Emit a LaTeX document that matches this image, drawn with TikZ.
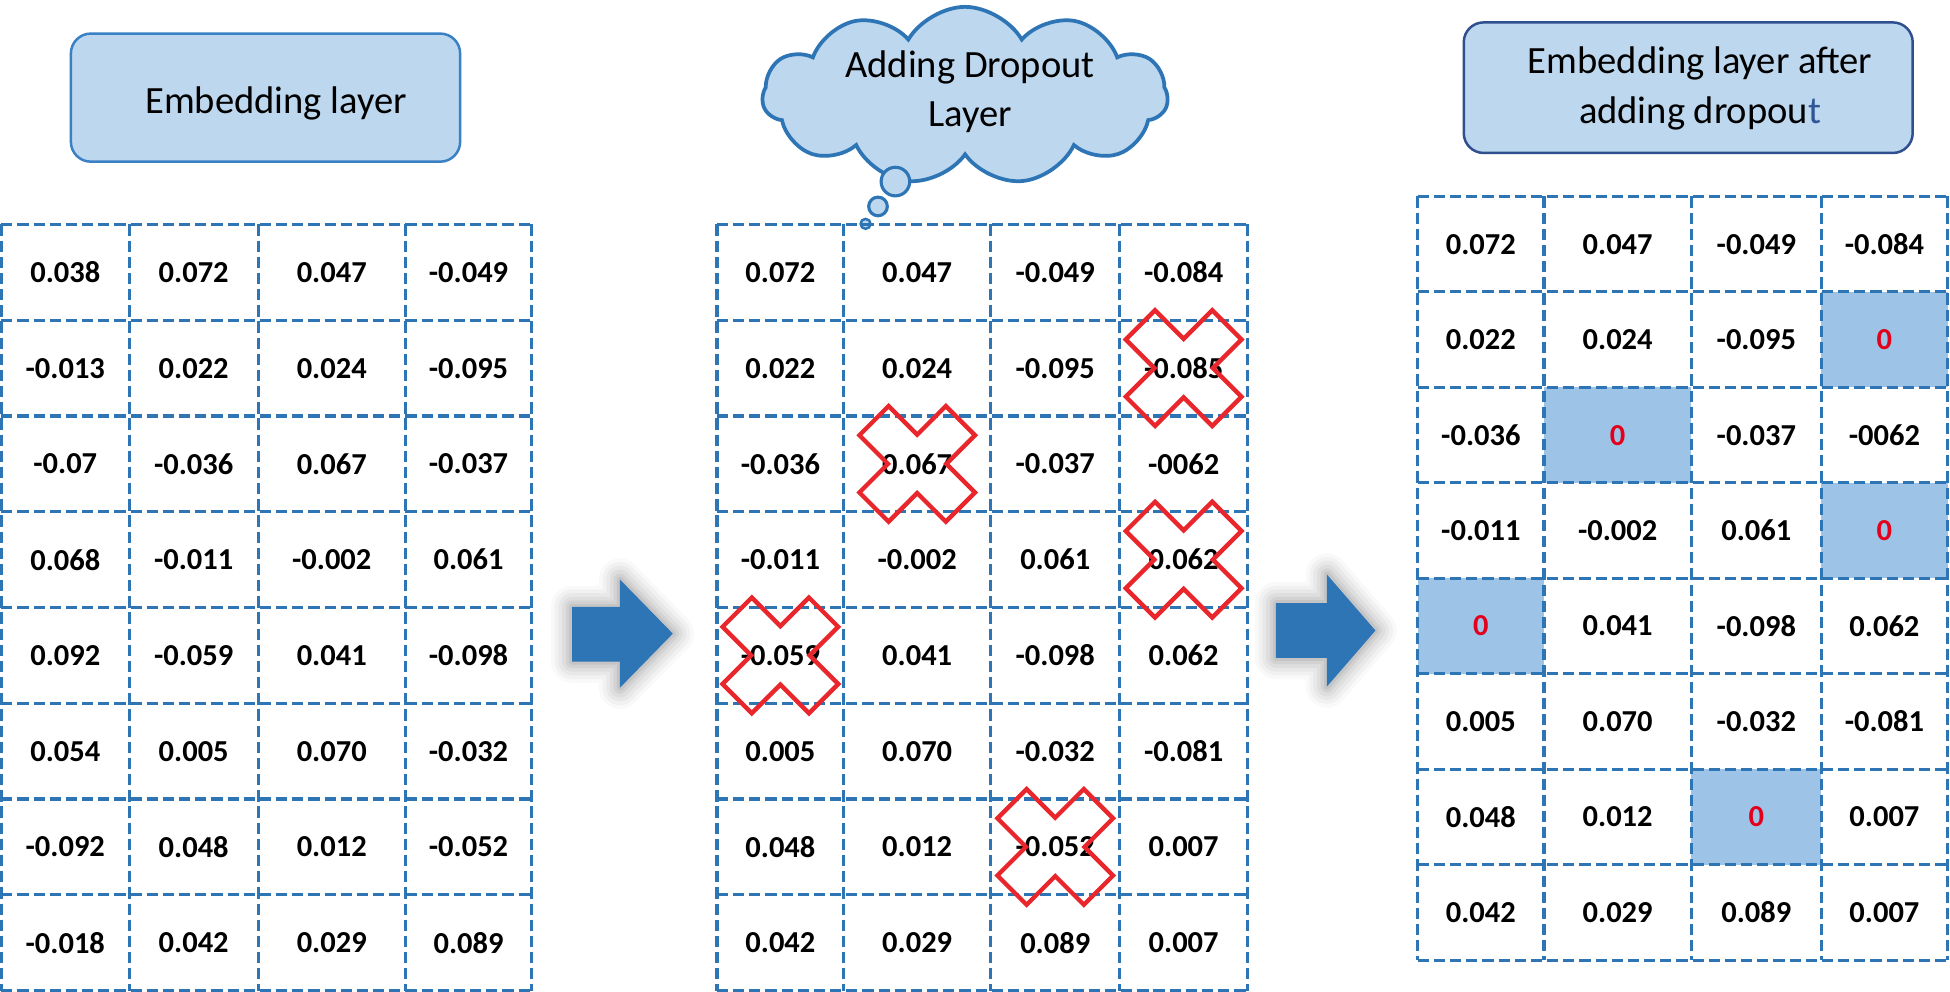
\documentclass[tikz,border=0pt]{standalone}
\usepackage{fontspec}
\setmainfont{Carlito}
\usetikzlibrary{shapes.symbols}
\definecolor{gridblue}{HTML}{2E75B6}
\definecolor{boxfill}{HTML}{BDD7EE}
\definecolor{boxline}{HTML}{3A80C4}
\definecolor{navyline}{HTML}{2F4F8F}
\definecolor{cellhi}{HTML}{9DC3E6}
\definecolor{xred}{HTML}{E8262B}
\definecolor{zerored}{HTML}{E3001B}
\definecolor{arrowblue}{HTML}{2E75B6}
\definecolor{tblue}{HTML}{2F5597}
\newcommand\zeroval{\textcolor{zerored}{0}}
\newcommand\celltable[5]{%
  \foreach \row [count=\r from 0] in {#5} {
    \foreach \v [count=\c from 0] in \row {
      \pgfmathsetmacro\xl{#2[\c]}
      \pgfmathtruncatemacro\cn{\c+1}
      \pgfmathsetmacro\xr{#2[\cn]}
      \pgfmathsetmacro\xc{(\xl+\xr)/2}
      \pgfmathsetmacro\yc{#3+#4*(\r+0.5)}
      \node[num] (#1-\r-\c) at (\xc,\yc) {\v};
    }
  }
}
\def\colA{{1,104,207.5,326,427.5}}
\def\colB{{576.5,678.5,796.5,900.5,1003}}
\def\colC{{1140,1241.5,1360,1464.5,1566}}
\begin{document}
\begin{tikzpicture}[x=1pt,y=-1pt,
  num/.style={font=\bfseries\fontsize{24.5}{29}\selectfont, inner sep=0pt, anchor=center},
  titletext/.style={font=\fontsize{31}{40}\selectfont, inner sep=0pt, anchor=base},
  gridline/.style={draw=gridblue, line width=2.5pt, dash pattern=on 9pt off 4pt},
  titlebox/.style={rounded corners=16pt, fill=boxfill, line width=2pt},
  redx/.pic={\draw[xred, line width=3.5pt, line join=miter]
     (0,-23.5) -- (23,-46.5) -- (46.5,-23) -- (23.5,0) -- (46.5,23) -- (23,46.5)
     -- (0,23.5) -- (-23,46.5) -- (-46.5,23) -- (-23.5,0) -- (-46.5,-23) -- (-23,-46.5) -- cycle;},
  bubble/.style={circle, draw=gridblue, fill=boxfill, line width=2.5pt, inner sep=0pt}
]
\useasboundingbox (0,0) rectangle (1568,797);
\fill[white] (0,0) rectangle (1568,797);

% ---------- title boxes ----------
\draw[titlebox, draw=boxline] (57,27) rectangle (370,130);
\node[titletext] (t1) at (222,91) {Embedding layer};

\node[cloud, cloud puffs=11, cloud puff arc=120, aspect=2.3, draw=gridblue, fill=boxfill,
      line width=3pt, minimum width=326pt, minimum height=143pt, inner sep=0pt] (cloud) at (776,77) {};
\node[titletext] (t2a) at (780,62) {Adding Dropout};
\node[titletext] (t2b) at (780,102) {Layer};
\node[bubble, minimum size=23pt] (c1) at (720,146) {};
\node[bubble, minimum size=15pt] (c2) at (706,166) {};
\node[bubble, minimum size=8pt, line width=2pt] (c3) at (696,180) {};

\draw[titlebox, draw=navyline] (1177,18) rectangle (1538,123);
\node[titletext] (t3a) at (1367,59) {Embedding layer after};
\node[titletext] (t3b) at (1367,99) {adding dropou\textcolor{tblue}{t}};

% ---------- highlighted cells in table 3 ----------
\fill[cellhi] (1464.5,234.75) rectangle (1566,311.5);
\fill[cellhi] (1241.5,311.5) rectangle (1360,388.25);
\fill[cellhi] (1464.5,388.25) rectangle (1566,465);
\fill[cellhi] (1140,465) rectangle (1241.5,541.75);
\fill[cellhi] (1360,618.5) rectangle (1464.5,695.25);

% ---------- grids ----------
\foreach \x in {1,104,207.5,326,427.5} \draw[gridline] (\x,180.5) -- (\x,796.5);
\foreach \i in {0,...,8} \draw[gridline] (1,180.5+77*\i) -- (427.5,180.5+77*\i);
\foreach \x in {576.5,678.5,796.5,900.5,1003} \draw[gridline] (\x,180.5) -- (\x,796.5);
\foreach \i in {0,...,8} \draw[gridline] (576.5,180.5+77*\i) -- (1003,180.5+77*\i);
\foreach \x in {1140,1241.5,1360,1464.5,1566} \draw[gridline] (\x,158) -- (\x,772);
\foreach \i in {0,...,8} \draw[gridline] (1140,158+76.75*\i) -- (1566,158+76.75*\i);

% ---------- values ----------
\celltable{A}{\colA}{180.5}{77}{%
  {0.038,0.072,0.047,-0.049},
  {-0.013,0.022,0.024,-0.095},
  {-0.07,-0.036,0.067,-0.037},
  {0.068,-0.011,-0.002,0.061},
  {0.092,-0.059,0.041,-0.098},
  {0.054,0.005,0.070,-0.032},
  {-0.092,0.048,0.012,-0.052},
  {-0.018,0.042,0.029,0.089}}
\celltable{B}{\colB}{180.5}{77}{%
  {0.072,0.047,-0.049,-0.084},
  {0.022,0.024,-0.095,-0.085},
  {-0.036,0.067,-0.037,-0062},
  {-0.011,-0.002,0.061,0.062},
  {-0.059,0.041,-0.098,0.062},
  {0.005,0.070,-0.032,-0.081},
  {0.048,0.012,-0.052,0.007},
  {0.042,0.029,0.089,0.007}}
\celltable{C}{\colC}{158}{76.75}{%
  {0.072,0.047,-0.049,-0.084},
  {0.022,0.024,-0.095,\zeroval},
  {-0.036,\zeroval,-0.037,-0062},
  {-0.011,-0.002,0.061,\zeroval},
  {\zeroval,0.041,-0.098,0.062},
  {0.005,0.070,-0.032,-0.081},
  {0.048,0.012,\zeroval,0.007},
  {0.042,0.029,0.089,0.007}}

% ---------- red crosses ----------
\pic at (B-1-3) {redx};
\pic at (B-2-1) {redx};
\pic at (B-3-3) {redx};
\pic at (B-4-0) {redx};
\pic at (B-6-2) {redx};

% ---------- block arrows ----------
\foreach \w/\o in {34/0.025,28/0.03,22/0.035,16/0.04,10/0.05,5/0.06}{
  \draw[black, opacity=\o, line width=\w pt, line join=round]
    (460,488) -- (498.5,488) -- (498.5,466) -- (541,509.5) -- (498.5,553) -- (498.5,532) -- (460,532) -- cycle;
  \draw[black, opacity=\o, line width=\w pt, line join=round]
    (1026,485) -- (1067,485) -- (1067,462) -- (1106,507) -- (1067,552) -- (1067,529) -- (1026,529) -- cycle;
}
\fill[arrowblue] (460,488) -- (498.5,488) -- (498.5,466) -- (541,509.5) -- (498.5,553) -- (498.5,532) -- (460,532) -- cycle;
\fill[arrowblue] (1026,485) -- (1067,485) -- (1067,462) -- (1106,507) -- (1067,552) -- (1067,529) -- (1026,529) -- cycle;
\end{tikzpicture}
\end{document}
